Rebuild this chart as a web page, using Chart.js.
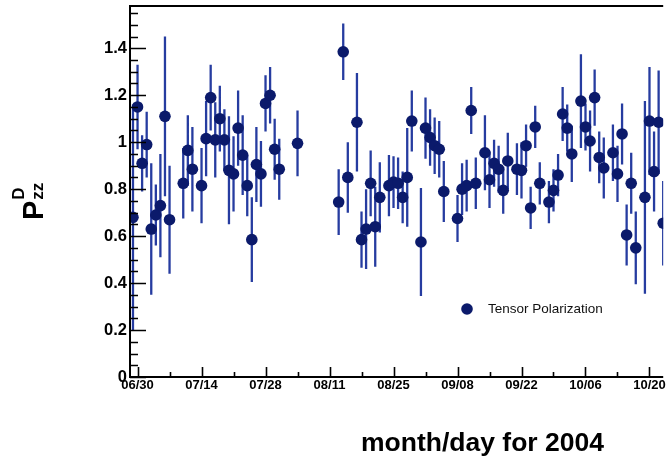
<!DOCTYPE html>
<html>
<head>
<meta charset="utf-8">
<title>Tensor Polarization 2004</title>
<script src="https://cdn.jsdelivr.net/npm/chart.js@4.4.1/dist/chart.umd.min.js"></script>
<style>
  html, body { margin: 0; padding: 0; background: #fff; overflow: hidden; }
  #wrap { width: 669px; height: 459px; }
</style>
</head>
<body>
<div id="wrap"><canvas id="pzzChart" width="669" height="459"></canvas></div>
<script>
// run day, counted from 06/30/2004
const runDays = [
  -1, 0, 1, 2, 3, 4, 5, 6, 7, 10, 11, 12, 14, 15, 16, 17, 18, 19, 20, 21,
  22, 23, 24, 25, 26, 27, 28, 29, 30, 31, 35, 44, 45, 46, 48, 49, 50, 51, 52, 53,
  55, 56, 57, 58, 59, 60, 62, 63, 64, 65, 66, 67, 70, 71, 72, 73, 74, 76, 77, 78,
  79, 80, 81, 83, 84, 85, 86, 87, 88, 90, 91, 92, 93, 94, 95, 97, 98, 99, 100, 101,
  102, 104, 105, 106, 107, 108, 109, 111, 112, 113, 114, 115
];

// measured P_zz per run
const pzzValues = [
  0.68, 1.15, 0.91, 0.99, 0.63, 0.69, 0.73, 1.11, 0.67, 0.825, 0.965, 0.885, 0.815, 1.015, 1.19, 1.01, 1.10, 1.01, 0.88, 0.865,
  1.06, 0.945, 0.815, 0.585, 0.905, 0.865, 1.165, 1.20, 0.97, 0.885, 0.995, 0.745, 1.385, 0.85, 1.085, 0.585, 0.63, 0.825, 0.64, 0.765,
  0.815, 0.83, 0.825, 0.765, 0.85, 1.09, 0.575, 1.06, 1.02, 0.985, 0.97, 0.79, 0.675, 0.80, 0.815, 1.135, 0.825, 0.955, 0.84, 0.91,
  0.885, 0.795, 0.92, 0.885, 0.88, 0.985, 0.72, 1.065, 0.825, 0.745, 0.795, 0.86, 1.12, 1.06, 0.95, 1.175, 1.065, 1.005, 1.19, 0.935,
  0.89, 0.955, 0.865, 1.035, 0.605, 0.825, 0.55, 0.765, 1.09, 0.875, 1.085, 0.655
];

// statistical error (+/-) per run
const pzzErrors = [
  0.48, 0.18, 0.12, 0.14, 0.28, 0.13, 0.22, 0.34, 0.23, 0.15, 0.15, 0.18, 0.16, 0.16, 0.14, 0.16, 0.14, 0.13, 0.23, 0.16,
  0.16, 0.17, 0.13, 0.18, 0.16, 0.14, 0.12, 0.12, 0.13, 0.13, 0.14, 0.14, 0.12, 0.15, 0.21, 0.12, 0.17, 0.14, 0.17, 0.15,
  0.13, 0.11, 0.11, 0.11, 0.21, 0.13, 0.23, 0.13, 0.12, 0.12, 0.12, 0.13, 0.10, 0.11, 0.11, 0.10, 0.11, 0.16, 0.12, 0.10,
  0.10, 0.10, 0.12, 0.11, 0.12, 0.09, 0.09, 0.09, 0.09, 0.09, 0.09, 0.09, 0.115, 0.10, 0.12, 0.20, 0.10, 0.13, 0.12, 0.11,
  0.13, 0.12, 0.12, 0.13, 0.13, 0.13, 0.155, 0.41, 0.23, 0.17, 0.22, 0.18
];

// labelled x ticks, every two weeks
const dateTickDays = [0, 14, 28, 42, 56, 70, 84, 98, 112];
const dateTickLabels = ['06/30', '07/14', '07/28', '08/11', '08/25', '09/08', '09/22', '10/06', '10/20'];

const seriesLabel = 'Tensor Polarization';
const xTitle = 'month/day for 2004';

const FONT = '"Liberation Sans", Arial, Helvetica, sans-serif';
const MARKER = '#0b1a6b';
const BAR = '#263ca0';

// vertical error bars, drawn under the markers
const errorBars = {
  id: 'errorBars',
  beforeDatasetsDraw(chart) {
    const { ctx, chartArea: a, scales: { x, y } } = chart;
    ctx.save();
    ctx.beginPath();
    ctx.rect(a.left, a.top, a.right - a.left, a.bottom - a.top);
    ctx.clip();
    ctx.strokeStyle = BAR;
    ctx.lineWidth = 2.3;
    ctx.beginPath();
    runDays.forEach((d, i) => {
      const px = x.getPixelForValue(d);
      ctx.moveTo(px, y.getPixelForValue(pzzValues[i] - pzzErrors[i]));
      ctx.lineTo(px, y.getPixelForValue(pzzValues[i] + pzzErrors[i]));
    });
    ctx.stroke();
    ctx.restore();
  }
};

// frame and inward tick marks
const frameTicks = {
  id: 'frameTicks',
  afterDraw(chart) {
    const { ctx, chartArea: a, scales: { x, y } } = chart;
    ctx.save();
    ctx.strokeStyle = '#000';
    ctx.lineWidth = 2;
    ctx.beginPath();
    ctx.moveTo(a.right, a.bottom);
    ctx.lineTo(a.left, a.bottom);
    ctx.lineTo(a.left, a.top);
    ctx.lineTo(a.right, a.top);
    ctx.stroke();

    ctx.lineWidth = 1.6;
    ctx.beginPath();
    y.ticks.forEach(t => {
      const major = Math.round(t.value * 20) % 4 === 0;
      const py = Math.round(y.getPixelForValue(t.value)) + 0.5;
      ctx.moveTo(a.left, py);
      ctx.lineTo(a.left + (major ? 16 : 8), py);
    });
    x.ticks.forEach(t => {
      const major = Math.round(t.value) % 14 === 0;
      const px = Math.round(x.getPixelForValue(t.value)) + 0.5;
      ctx.moveTo(px, a.bottom);
      ctx.lineTo(px, a.bottom - (major ? 10 : 5));
    });
    ctx.stroke();
    ctx.restore();
  }
};

// axis titles and the in-plot key
const titlesAndKey = {
  id: 'titlesAndKey',
  afterDraw(chart) {
    const { ctx, chartArea: a } = chart;
    ctx.save();
    ctx.fillStyle = '#000';

    // x title
    ctx.font = 'bold 26.5px ' + FONT;
    ctx.textAlign = 'left';
    ctx.textBaseline = 'alphabetic';
    ctx.fillText(xTitle, a.left + 231, 451);

    // y title: P with subscript zz and superscript D, rotated
    ctx.save();
    ctx.translate(43, 220);
    ctx.rotate(-Math.PI / 2);
    ctx.font = 'bold 29px ' + FONT;
    ctx.fillText('P', 0, 0);
    const pw = ctx.measureText('P').width + 1;
    ctx.font = 'bold 17px ' + FONT;
    ctx.fillText('D', pw, -19);
    ctx.fillText('zz', pw, 0);
    ctx.restore();

    // key
    const ds = chart.data.datasets[0];
    ctx.fillStyle = ds.pointBackgroundColor;
    ctx.beginPath();
    ctx.arc(467, 309, ds.pointRadius, 0, Math.PI * 2);
    ctx.fill();
    ctx.fillStyle = '#111';
    ctx.font = '13.5px ' + FONT;
    ctx.textBaseline = 'middle';
    ctx.fillText(ds.label, 488, 309);
    ctx.restore();
  }
};

const ctx = document.getElementById('pzzChart').getContext('2d');

new Chart(ctx, {
  type: 'scatter',
  data: {
    datasets: [{
      label: seriesLabel,
      data: runDays.map((d, i) => ({ x: d, y: pzzValues[i] })),
      pointRadius: 5.8,
      pointHoverRadius: 5.8,
      pointBackgroundColor: MARKER,
      pointBorderWidth: 0,
      borderColor: MARKER,
      showLine: false
    }]
  },
  options: {
    responsive: false,
    animation: false,
    events: [],
    layout: { padding: { top: 6, right: 0, bottom: 0, left: 0 } },
    plugins: {
      legend: { display: false },
      tooltip: { enabled: false }
    },
    scales: {
      x: {
        type: 'linear',
        min: -1.65,
        max: 115,
        grid: { display: false, drawTicks: false },
        border: { display: false },
        afterFit(s) { s.height = 82; s.paddingLeft = 0; s.paddingRight = 0; },
        ticks: {
          stepSize: 7,
          includeBounds: false,
          autoSkip: false,
          maxRotation: 0,
          minRotation: 0,
          padding: 1,
          color: '#000',
          font: { family: FONT, size: 13, weight: 'bold' },
          callback(v) {
            const k = dateTickDays.indexOf(Math.round(v));
            return k >= 0 ? dateTickLabels[k] : '';
          }
        }
      },
      y: {
        min: 0,
        max: 1.58,
        grid: { display: false, drawTicks: false },
        border: { display: false },
        afterFit(s) { s.width = 130; s.paddingTop = 0; s.paddingBottom = 0; },
        ticks: {
          stepSize: 0.05,
          includeBounds: false,
          autoSkip: false,
          padding: 3,
          color: '#000',
          font: { family: FONT, size: 16.5, weight: 'bold' },
          callback(v) {
            if (Math.round(v * 20) % 4 !== 0) return '';
            return String(Math.round(v * 10) / 10);
          }
        }
      }
    }
  },
  plugins: [errorBars, frameTicks, titlesAndKey]
});
</script>
</body>
</html>
